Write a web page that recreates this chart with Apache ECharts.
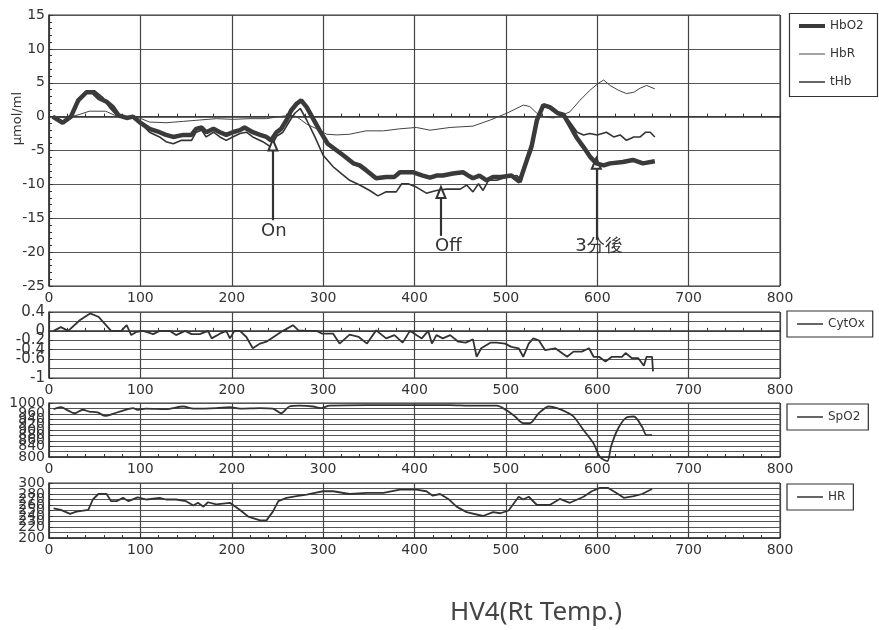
<!DOCTYPE html>
<html>
<head>
<meta charset="utf-8">
<script src="https://cdn.jsdelivr.net/npm/echarts@6/dist/echarts.min.js"></script>
<style>html,body{margin:0;padding:0;background:#fff}#c{width:879px;height:630px}</style>
</head>
<body>
<div id="c"></div>
<script>
// ---- data (x = time, y = value) ----
const xTicks = [0, 100, 200, 300, 400, 500, 600, 700, 800];
const hbo2 = [[4,0],[15,-0.9],[24,0],[32,2.4],[41,3.6],[48,3.6],[55,2.7],[63,2.2],[70,1.4],[76,0.2],[85,-0.2],[92,0],[99,-0.8],[110,-1.8],[121,-2.3],[128,-2.7],[136,-3],[147,-2.7],[156,-2.7],[161,-1.8],[167,-1.6],[172,-2.3],[180,-1.8],[187,-2.3],[194,-2.7],[201,-2.3],[209,-2],[214,-1.6],[223,-2.3],[231,-2.7],[238,-3],[243,-3.5],[249,-2.3],[254,-1.8],[260,-0.5],[265,0.9],[271,1.9],[276,2.4],[282,1.4],[289,-0.3],[296,-2],[305,-4],[315,-5],[322,-5.7],[333,-6.9],[340,-7.2],[347,-7.9],[358,-9.1],[369,-8.9],[378,-8.9],[384,-8.2],[398,-8.2],[409,-8.7],[417,-9],[424,-8.7],[431,-8.7],[442,-8.4],[453,-8.2],[459,-8.7],[464,-9.1],[471,-8.7],[479,-9.4],[486,-8.9],[495,-8.9],[506,-8.7],[515,-9.6],[523,-6.4],[528,-4.5],[534,-0.5],[541,1.7],[548,1.4],[557,0.5],[563,0.3],[570,-1.3],[577,-3],[585,-4.5],[592,-5.9],[599,-6.9],[607,-7.2],[614,-6.9],[628,-6.7],[639,-6.4],[650,-6.9],[663,-6.6]];
const hbr = [[4,0],[19,-0.2],[33,0.3],[44,0.8],[62,0.8],[72,0.2],[85,0],[99,-0.2],[110,-0.8],[128,-0.9],[147,-0.7],[165,-0.5],[183,-0.3],[201,-0.4],[220,-0.3],[238,-0.3],[252,0],[264,0.2],[271,0],[282,-1.1],[293,-1.8],[304,-2.6],[315,-2.7],[329,-2.6],[347,-2.1],[366,-2.1],[384,-1.8],[402,-1.6],[417,-2],[439,-1.6],[464,-1.4],[483,-0.5],[501,0.5],[519,1.7],[526,1.5],[534,0.5],[541,0],[552,-0.2],[563,0.3],[570,0.7],[581,2.4],[592,3.9],[601,4.9],[607,5.4],[614,4.6],[623,3.9],[632,3.4],[640,3.6],[647,4.2],[654,4.6],[663,4.1]];
const thb = [[4,0],[15,-0.8],[24,0],[33,2.4],[41,3.8],[50,3.8],[59,2.8],[66,1.4],[74,0.2],[85,0],[92,-0.2],[99,-0.8],[110,-2.3],[121,-3],[128,-3.7],[136,-4],[145,-3.5],[156,-3.5],[161,-2.3],[167,-2],[172,-3],[180,-2.3],[187,-3],[194,-3.5],[201,-3],[209,-2.5],[216,-2.3],[223,-3],[234,-3.7],[243,-4.5],[249,-2.9],[256,-2.3],[264,-0.5],[269,0.5],[275,1.2],[282,-0.5],[291,-3],[300,-5.7],[311,-7.4],[318,-8.2],[329,-9.4],[340,-10.1],[351,-10.9],[360,-11.7],[369,-11.1],[380,-11.1],[386,-9.9],[393,-9.9],[402,-10.4],[413,-11.3],[424,-10.9],[435,-10.7],[450,-10.7],[457,-10.1],[464,-11.1],[470,-9.9],[475,-10.9],[481,-9.4],[490,-9.4],[501,-8.9],[512,-8.7],[517,-9.4],[523,-5.9],[528,-3.9],[534,0],[541,1.4],[550,1.4],[557,0.7],[563,0.3],[570,-0.8],[578,-2.3],[585,-2.7],[592,-2.5],[600,-2.7],[610,-2.3],[618,-3],[625,-2.7],[632,-3.5],[640,-3],[647,-3],[653,-2.3],[658,-2.3],[663,-3]];
const cytox = [[5,0],[13,0.08],[21,0],[34,0.23],[45,0.37],[54,0.3],[68,0],[79,0],[85,0.12],[90,-0.09],[96,-0.02],[103,0],[114,-0.07],[121,0],[132,0],[139,-0.09],[149,0],[156,-0.07],[165,-0.07],[174,0],[178,-0.16],[187,-0.06],[194,0],[198,-0.16],[203,0],[209,0],[216,-0.13],[223,-0.37],[231,-0.27],[238,-0.23],[249,-0.09],[256,0],[267,0.12],[273,0.01],[282,0],[293,0],[299,-0.06],[311,-0.06],[318,-0.27],[329,-0.08],[339,-0.13],[348,-0.27],[358,0.01],[369,-0.16],[378,-0.09],[387,-0.25],[395,0],[402,-0.09],[408,-0.16],[415,0],[419,-0.27],[424,-0.09],[431,-0.16],[439,-0.09],[448,-0.23],[456,-0.25],[464,-0.18],[468,-0.55],[473,-0.37],[483,-0.25],[490,-0.25],[499,-0.27],[506,-0.34],[514,-0.37],[519,-0.55],[525,-0.27],[530,-0.16],[536,-0.2],[543,-0.41],[554,-0.37],[567,-0.55],[574,-0.44],[583,-0.44],[591,-0.37],[596,-0.55],[602,-0.55],[609,-0.65],[616,-0.55],[627,-0.55],[631,-0.47],[638,-0.58],[645,-0.58],[651,-0.74],[654,-0.55],[660,-0.55],[661,-0.86]];
const spo2 = [[5,977],[13,985],[21,972],[28,962],[37,975],[44,968],[53,965],[62,952],[70,960],[81,972],[92,981],[97,975],[106,979],[128,977],[147,987],[158,979],[183,981],[198,985],[209,979],[231,981],[245,979],[254,962],[263,987],[274,990],[289,987],[298,981],[307,990],[348,992],[399,992],[439,992],[460,990],[490,990],[501,972],[510,950],[519,925],[526,925],[536,962],[547,987],[556,981],[567,965],[574,950],[585,900],[596,850],[603,800],[611,785],[615,838],[622,900],[631,944],[640,950],[649,912],[654,881],[660,881]];
const hr = [[5,254],[13,251],[23,244],[30,248],[43,251],[48,270],[54,280],[63,280],[68,267],[74,267],[81,273],[87,267],[97,274],[107,270],[121,273],[128,270],[139,270],[150,267],[158,259],[163,264],[169,257],[174,265],[183,261],[198,264],[209,251],[218,239],[231,232],[238,232],[245,248],[251,267],[260,273],[271,276],[282,279],[291,282],[300,285],[311,285],[329,280],[348,282],[366,282],[384,288],[402,288],[413,285],[420,277],[428,280],[437,271],[446,257],[457,247],[475,240],[486,247],[494,245],[503,250],[514,275],[519,270],[525,275],[534,260],[548,260],[559,271],[570,264],[585,275],[594,285],[603,291],[612,291],[621,282],[629,273],[640,276],[649,280],[660,289]];
const annotations = [
  {x: 245, tip: -4.2, base: -15.3, text: 'On', textX: 246, textY: -16.9},
  {x: 429, tip: -11.2, base: -17.6, text: 'Off', textX: 437, textY: -19.1},
  {x: 599, tip: -6.9, base: -18.2, text: '3分後', textX: 602, textY: -19.1}
];
const mainY = {min: -25, max: 15, interval: 5};
const cytY = {min: -1, max: 0.4, interval: 0.2};
const spoY = {min: 800, max: 1000, interval: 20};
const hrY = {min: 200, max: 300, interval: 10};

const ink = '#333';
const font = 'DejaVu Sans';
const grids = [
  {left: 49, top: 15, width: 731, height: 271},
  {left: 49, top: 312, width: 731, height: 66},
  {left: 49, top: 403, width: 731, height: 54},
  {left: 49, top: 483, width: 731, height: 55}
].map(g => Object.assign({show: true, borderColor: ink, borderWidth: 1, backgroundColor: '#fff'}, g));

function xAx(i) {
  return {
    type: 'value', gridIndex: i, min: xTicks[0], max: xTicks[xTicks.length - 1], interval: 100,
    axisLine: {show: true, lineStyle: {color: ink, width: 1.5}},
    axisTick: {show: true, inside: true, length: 4, lineStyle: {color: ink}},
    minorTick: {show: true, splitNumber: 5, length: 3, lineStyle: {color: ink}},
    splitLine: {show: true, lineStyle: {color: '#444', width: 1.2}},
    axisLabel: {color: ink, fontFamily: font, fontSize: 14, margin: 5}
  };
}
function yAx(i, cfg, fs, minor) {
  return {
    type: 'value', gridIndex: i, min: cfg.min, max: cfg.max, interval: cfg.interval,
    axisLine: {show: true, lineStyle: {color: ink, width: 1.5}},
    axisTick: {show: true, inside: true, length: 4, lineStyle: {color: ink}},
    minorTick: {show: !!minor, splitNumber: minor || 5, length: 3, lineStyle: {color: ink}},
    splitLine: {show: true, lineStyle: {color: '#555', width: 1}},
    axisLabel: {color: ink, fontFamily: font, fontSize: fs, margin: 4, showMinLabel: true, showMaxLabel: true,
      hideOverlap: false, formatter: v => String(Math.round(v * 100) / 100)}
  };
}

function legend(top, left, names, iconH, border) {
  return {
    left: left, top: top, orient: 'vertical', data: names,
    icon: 'rect', itemWidth: 26, itemHeight: iconH,
    padding: border ? [7, 8, 7, 10] : 0,
    borderColor: border ? ink : 'transparent', borderWidth: border ? 1.2 : 0,
    textStyle: {color: ink, fontFamily: font, fontSize: 12},
    selectedMode: false
  };
}

const chart = echarts.init(document.getElementById('c'), null, {renderer: 'canvas'});
const arrowLines = annotations.map(a => [
  {coord: [a.x, a.base], symbol: 'none'},
  {coord: [a.x, a.tip], symbol: 'emptyTriangle', symbolSize: [9, 11]}
]);
const textPts = annotations.map(a => ({
  coord: [a.textX, a.textY], value: a.text,
  label: {show: true, formatter: a.text, position: 'inside', color: ink, fontFamily: font, fontSize: 18}
}));

chart.setOption({
  animation: false,
  backgroundColor: '#fff',
  title: {text: 'HV4(Rt Temp.)', left: 531, top: 595, textAlign: 'center',
    textStyle: {color: '#444', fontFamily: 'Noto Sans', fontWeight: 'normal', fontSize: 26}},
  grid: grids,
  xAxis: [xAx(0), xAx(1), xAx(2), xAx(3)],
  yAxis: [yAx(0, mainY, 14, 5), yAx(1, cytY, 15), yAx(2, spoY, 14), yAx(3, hrY, 14)],
  legend: [
    legend(20, 799, ['HbO2'], 4, false),
    legend(48, 799, ['HbR'], 1, false),
    legend(76, 799, ['tHb'], 1.5, false),
    legend(311, 787, ['CytOx'], 1.5, true),
    legend(404, 787, ['SpO2'], 1.5, true),
    legend(484, 787, ['HR'], 1.5, true)
  ],
  graphic: [
    {type: 'rect', shape: {x: 789.5, y: 13.5, width: 88, height: 83}, style: {fill: 'none', stroke: ink, lineWidth: 1.2}, z: 100},
    {type: 'text', left: 11, top: 92, rotation: Math.PI / 2,
      style: {text: 'μmol/ml', fill: ink, font: '13px "DejaVu Sans"'}}
  ],
  series: [
    {name: 'HbO2', type: 'line', xAxisIndex: 0, yAxisIndex: 0, data: hbo2, symbol: 'none', z: 5,
      lineStyle: {color: '#3a3a3a', width: 4.5}, itemStyle: {color: '#3a3a3a'},
      markLine: {silent: true, animation: false, label: {show: false},
        lineStyle: {color: ink, width: 2.2, type: 'solid'}, data: arrowLines},
      markPoint: {silent: true, animation: false, symbol: 'rect', symbolSize: 1,
        itemStyle: {color: 'rgba(0,0,0,0)'}, data: textPts}},
    {name: 'HbR', type: 'line', xAxisIndex: 0, yAxisIndex: 0, data: hbr, symbol: 'none',
      lineStyle: {color: '#444', width: 1}, itemStyle: {color: '#444'}},
    {name: 'tHb', type: 'line', xAxisIndex: 0, yAxisIndex: 0, data: thb, symbol: 'none',
      lineStyle: {color: '#333', width: 1.6}, itemStyle: {color: '#333'}},
    {name: 'CytOx', type: 'line', xAxisIndex: 1, yAxisIndex: 1, data: cytox, symbol: 'none',
      lineStyle: {color: '#333', width: 1.8}, itemStyle: {color: '#333'}},
    {name: 'SpO2', type: 'line', xAxisIndex: 2, yAxisIndex: 2, data: spo2, symbol: 'none', clip: false, smooth: 0.3,
      lineStyle: {color: '#333', width: 1.8}, itemStyle: {color: '#333'}},
    {name: 'HR', type: 'line', xAxisIndex: 3, yAxisIndex: 3, data: hr, symbol: 'none',
      lineStyle: {color: '#333', width: 1.8}, itemStyle: {color: '#333'}}
  ]
});
</script>
</body>
</html>
